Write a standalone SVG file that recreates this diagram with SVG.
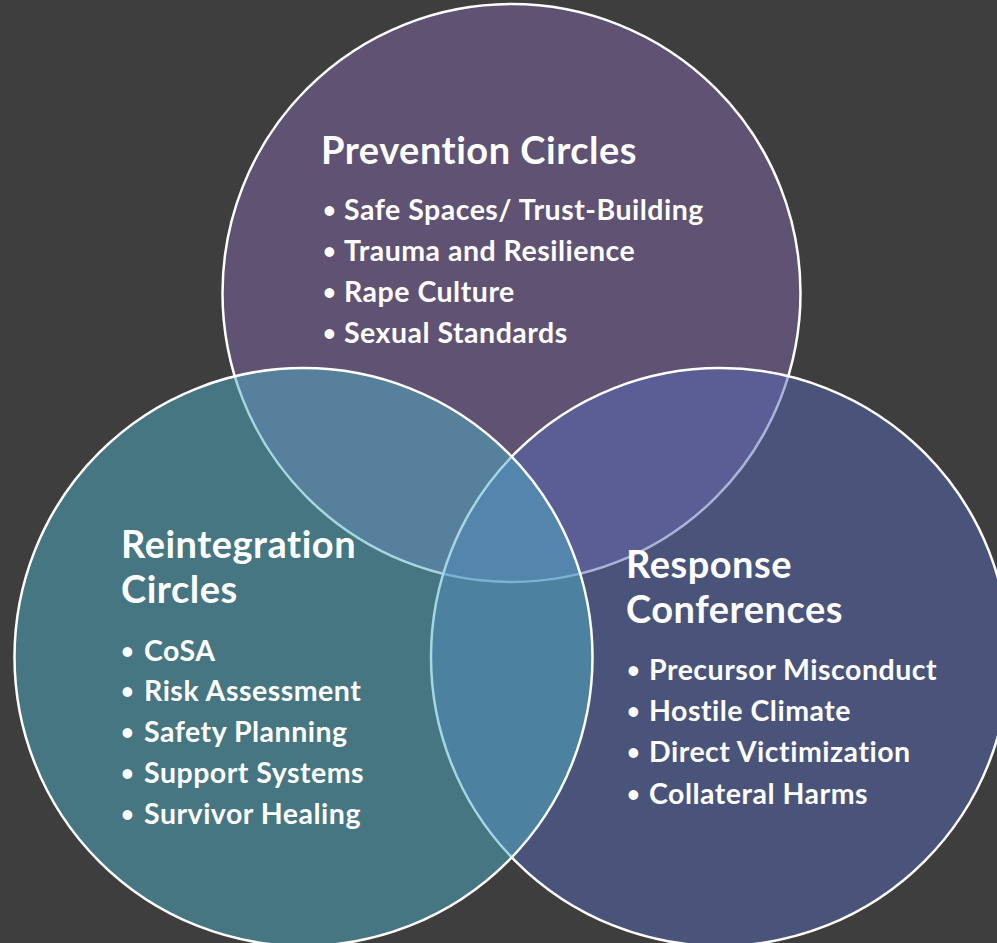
<svg xmlns="http://www.w3.org/2000/svg" width="997" height="943" viewBox="0 0 997 943">
<style>
.c{stroke:#fff;stroke-width:2.5;fill-opacity:0.5}
.t{font-family:Lato,"Open Sans","Liberation Sans",sans-serif;font-weight:bold;fill:#fff;font-variant-ligatures:none;font-feature-settings:"liga" 0,"dlig" 0}
.h{font-size:38px;letter-spacing:0.5px}
.b{font-size:28.5px;letter-spacing:0.5px}
.d{font-size:22px}
</style>
<rect width="997" height="943" fill="#3e3e3e"/>
<g id="prevention">
<circle class="c" cx="511.5" cy="293" r="289" fill="#8066a6"/>
</g>
<g id="response">
<circle class="c" cx="720" cy="657" r="289" fill="#566ab6"/>
</g>
<g id="reintegration">
<circle class="c" cx="303.5" cy="657" r="289" fill="#4eaec6"/>
</g>
<g id="connectors"></g>
<g id="prevention-text" class="t">
<text class="h" x="321" y="164">Prevention Circles</text>
<text class="d" x="323" y="218">•</text>
<text class="b" x="344" y="220">Safe Spaces/ Trust-Building</text>
<text class="d" x="323" y="259">•</text>
<text class="b" x="344" y="261">Trauma and Resilience</text>
<text class="d" x="323" y="300">•</text>
<text class="b" x="344" y="302">Rape Culture</text>
<text class="d" x="323" y="341">•</text>
<text class="b" x="344" y="343">Sexual Standards</text>
</g>
<g id="reintegration-text" class="t">
<text class="h" x="121" y="558">Reintegration</text>
<text class="h" x="121" y="603">Circles</text>
<text class="d" x="121" y="659">•</text>
<text class="b" x="144" y="661">CoSA</text>
<text class="d" x="121" y="699">•</text>
<text class="b" x="144" y="701">Risk Assessment</text>
<text class="d" x="121" y="740">•</text>
<text class="b" x="144" y="742">Safety Planning</text>
<text class="d" x="121" y="781">•</text>
<text class="b" x="144" y="783">Support Systems</text>
<text class="d" x="121" y="822">•</text>
<text class="b" x="144" y="824">Survivor Healing</text>
</g>
<g id="response-text" class="t">
<text class="h" x="626" y="578">Response</text>
<text class="h" x="626" y="623">Conferences</text>
<text class="d" x="627" y="678">•</text>
<text class="b" x="649" y="680">Precursor Misconduct</text>
<text class="d" x="627" y="719">•</text>
<text class="b" x="649" y="721">Hostile Climate</text>
<text class="d" x="627" y="760">•</text>
<text class="b" x="649" y="762">Direct Victimization</text>
<text class="d" x="627" y="802">•</text>
<text class="b" x="649" y="804">Collateral Harms</text>
</g>
</svg>
